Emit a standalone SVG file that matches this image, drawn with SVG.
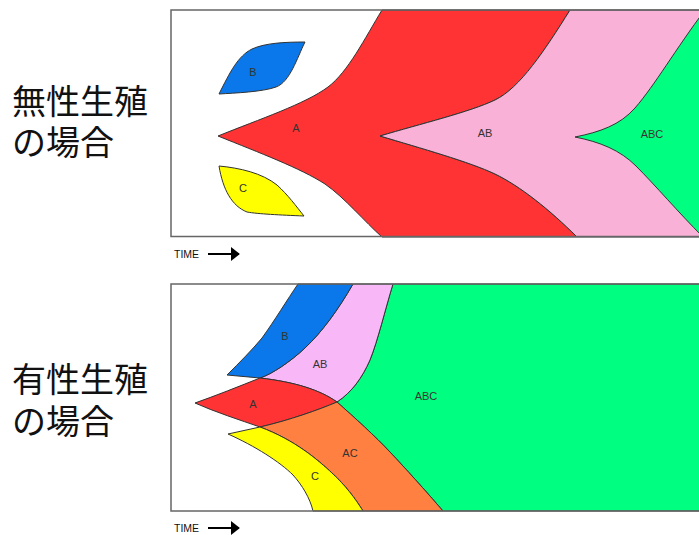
<svg xmlns="http://www.w3.org/2000/svg" width="699" height="535" viewBox="0 0 699 535">
<defs>
<style>
.reg{stroke:#333;stroke-width:1;stroke-linejoin:round}
.lbl{font-family:"Liberation Sans",Arial,sans-serif;font-size:11px;fill:#333;text-anchor:middle}
.jp{font-family:"Noto Sans CJK JP","Noto Sans",sans-serif;font-size:34px;fill:#111}
.box{fill:none;stroke:#666;stroke-width:1.5}
.time{font-family:"Liberation Sans",Arial,sans-serif;font-size:11px;fill:#111}
</style>
<marker id="ah" viewBox="0 0 10 10" refX="9" refY="5" markerWidth="9" markerHeight="14" markerUnits="userSpaceOnUse" orient="auto" preserveAspectRatio="none">
<path d="M0,0 L10,5 L0,10 Z" fill="#000"/>
</marker>
</defs>
<rect width="699" height="535" fill="#fff"/>

<g id="title-asexual">
<text class="jp" x="12" y="114">無性生殖</text>
<text class="jp" x="12" y="155">の場合</text>
</g>
<g id="title-sexual">
<text class="jp" x="12" y="392">有性生殖</text>
<text class="jp" x="12" y="434">の場合</text>
</g>

<!-- top panel -->
<g id="top-A">
<path class="reg" fill="#FF3333" d="M218,136 C260,119 305,104 328,87 C348,72 365,38 382,10 L570,10 C545,50 520,88 495,100 C470,112 420,124 380,136 C420,148 470,162 495,174 C520,186 550,210 577,237 L382,237 C365,222 345,198 325,184 C300,168 260,153 218,136 Z"/>
<text class="lbl" x="296" y="132">A</text>
</g>
<g id="top-AB">
<path class="reg" fill="#F9B1D8" d="M380,136 C420,124 470,112 495,100 C520,88 545,50 570,10 L710,10 L710,237 L577,237 C550,210 520,186 495,174 C470,162 420,148 380,136 Z"/>
<text class="lbl" x="485" y="137">AB</text>
</g>
<g id="top-ABC">
<path class="reg" fill="#00FF80" d="M575,137 C600,132 620,125 635,108 C655,85 675,50 705,10 L710,10 L710,237 L703,237 C678,212 656,186 636,166 C620,150 600,142 575,137 Z"/>
<text class="lbl" x="652" y="138">ABC</text>
</g>
<g id="top-B">
<path class="reg" fill="#0A78EA" d="M219,94 C230,72 238,56 252,49 C265,43 285,42 305,42 C297,58 290,82 276,87 C262,92 235,93 219,94 Z"/>
<text class="lbl" x="253" y="76">B</text>
</g>
<g id="top-C">
<path class="reg" fill="#FFFF00" d="M219,166 C240,168 262,173 277,185 C288,195 296,206 304,216 C280,215 258,214 247,212 C232,206 223,190 219,166 Z"/>
<text class="lbl" x="243" y="192">C</text>
</g>
<rect class="box" x="171" y="10" width="560" height="226.5"/>

<!-- bottom panel -->
<g id="bottom-ABC">
<path class="reg" fill="#00FF80" d="M393,284 L710,284 L710,511 L443,511 C425,490 405,468 390,452 C375,436 355,418 337,402 C352,392 362,378 370,360 C378,340 385,310 393,284 Z"/>
<text class="lbl" x="426" y="400">ABC</text>
</g>
<g id="bottom-AB">
<path class="reg" fill="#F8B8F8" d="M353,284 L393,284 C385,310 378,340 370,360 C362,378 352,392 337,402 C320,390 295,382 260,378 C272,374 290,362 305,348 C322,332 338,310 353,284 Z"/>
<text class="lbl" x="320" y="368">AB</text>
</g>
<g id="bottom-B">
<path class="reg" fill="#0A78EA" d="M298,284 L353,284 C338,310 322,332 305,348 C290,362 272,374 260,378 L227,375 C240,362 252,350 262,338 C275,320 287,300 298,284 Z"/>
<text class="lbl" x="285" y="340">B</text>
</g>
<g id="bottom-A">
<path class="reg" fill="#FF3333" d="M195,403 C215,396 240,386 260,378 C295,382 320,390 337,402 C318,410 290,420 260,427 C240,420 215,412 195,403 Z"/>
<text class="lbl" x="253" y="408">A</text>
</g>
<g id="bottom-AC">
<path class="reg" fill="#FF8040" d="M260,427 C290,420 318,410 337,402 C355,418 375,436 390,452 C405,468 425,490 443,511 L363,511 C355,498 345,485 332,473 C318,460 295,440 260,427 Z"/>
<text class="lbl" x="350" y="457">AC</text>
</g>
<g id="bottom-C">
<path class="reg" fill="#FFFF00" d="M228,434 L260,427 C295,440 318,460 332,473 C345,485 355,498 363,511 L313,511 C310,498 302,485 293,475 C280,462 255,446 228,434 Z"/>
<text class="lbl" x="315" y="480">C</text>
</g>
<rect class="box" x="171" y="284" width="560" height="227"/>

<g id="connectors">
<text class="time" x="174" y="258" textLength="25" lengthAdjust="spacingAndGlyphs">TIME</text>
<line x1="208" y1="254" x2="239" y2="254" stroke="#000" stroke-width="2" marker-end="url(#ah)"/>
<text class="time" x="174" y="532" textLength="25" lengthAdjust="spacingAndGlyphs">TIME</text>
<line x1="208" y1="528" x2="239" y2="528" stroke="#000" stroke-width="2" marker-end="url(#ah)"/>
</g>
</svg>
